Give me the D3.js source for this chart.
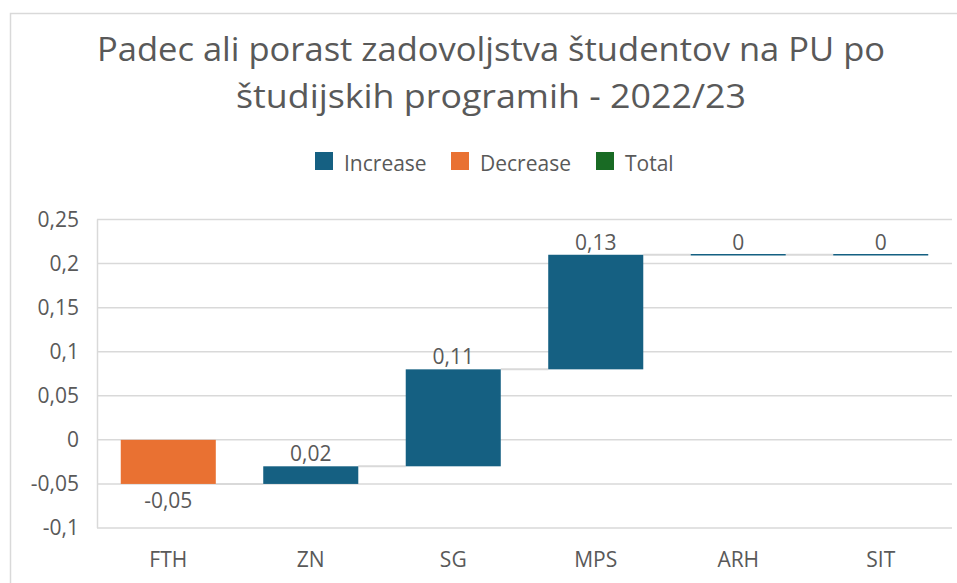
<!DOCTYPE html>
<html>
<head>
<meta charset="utf-8">
<script src="https://cdn.jsdelivr.net/npm/d3@7"></script>
<style>
html, body { margin: 0; padding: 0; background: #fff; }
svg { display: block; font-family: "Open Sans", sans-serif; }
</style>
</head>
<body>
<svg id="chart" width="957" height="583"></svg>
<script>
const titleLines = ["Padec ali porast zadovoljstva študentov na PU po", "študijskih programih - 2022/23"];
const categories = ["FTH", "ZN", "SG", "MPS", "ARH", "SIT"];
const deltas = [-0.05, 0.02, 0.11, 0.13, 0, 0];
const yTicks = [-0.1, -0.05, 0, 0.05, 0.1, 0.15, 0.2, 0.25];
const legendItems = ["Increase", "Decrease", "Total"];
const colors = { Increase: "#156082", Decrease: "#E97132", Total: "#196B24" };

const svg = d3.select("#chart");
const textColor = "#595959";
const gridColor = "#d9d9d9";

// outer chart border
svg.append("rect").attr("x", 10.5).attr("y", 13.5).attr("width", 1000).attr("height", 1000)
  .attr("fill", "#fff").attr("stroke", gridColor).attr("stroke-width", 1.5);

// title
const titleWidths = [788, 510];
titleLines.forEach((t, i) => {
  svg.append("text").attr("x", 491).attr("y", 61 + i * 46.5)
    .attr("text-anchor", "middle").attr("fill", textColor)
    .attr("font-size", 32).attr("textLength", titleWidths[i]).attr("lengthAdjust", "spacingAndGlyphs")
    .text(t);
});

// legend
const legendX = [315, 451, 596];
legendItems.forEach((name, i) => {
  const g = svg.append("g").attr("transform", `translate(${legendX[i]},152)`);
  g.append("rect").attr("width", 18).attr("height", 18).attr("fill", colors[name]);
  g.append("text").attr("x", 29).attr("y", 18.5).attr("fill", textColor)
    .attr("font-size", 21).text(name);
});

// scales
const x = d3.scaleBand().domain(categories).range([97, 952]).paddingInner(0.333).paddingOuter(0.1667);
const y = d3.scaleLinear().domain([-0.1, 0.25]).range([528, 219.5]);

// gridlines
svg.append("g").selectAll("line").data(yTicks).join("line")
  .attr("x1", 97).attr("x2", 952)
  .attr("y1", d => y(d)).attr("y2", d => y(d))
  .attr("stroke", gridColor).attr("stroke-width", 1.5);

// vertical axis line on left of plot
svg.append("line").attr("x1", 97.5).attr("x2", 97.5).attr("y1", y(0.25)).attr("y2", y(-0.1))
  .attr("stroke", gridColor).attr("stroke-width", 1.5);

const fmt = v => {
  const s = d3.format("")(+v.toFixed(2));
  return s.replace(".", ",").replace("−", "-");
};

// y axis
const yAxis = d3.axisLeft(y).tickValues(yTicks).tickSize(0).tickPadding(0).tickFormat(fmt);
const ya = svg.append("g").attr("transform", "translate(79,0)").call(yAxis);
ya.select(".domain").remove();
ya.selectAll("text").attr("fill", textColor).attr("font-size", 21).attr("font-family", "Open Sans");

// x axis labels
const xAxis = d3.axisBottom(x).tickSize(0).tickPadding(0);
const xa = svg.append("g").attr("transform", "translate(0,551)").call(xAxis);
xa.select(".domain").remove();
xa.selectAll("text").attr("fill", textColor).attr("font-size", 21).attr("font-family", "Open Sans")
  .attr("dy", "0.75em");

// waterfall data
let cum = 0;
const bars = categories.map((c, i) => {
  const start = cum;
  cum = +(cum + deltas[i]).toFixed(4);
  const type = deltas[i] < 0 ? "Decrease" : "Increase";
  return { cat: c, start, end: cum, delta: deltas[i], type };
});

// connectors
svg.append("g").selectAll("line").data(bars.slice(0, -1)).join("line")
  .attr("x1", d => x(d.cat) + x.bandwidth())
  .attr("x2", (d, i) => x(bars[i + 1].cat))
  .attr("y1", d => y(d.end)).attr("y2", d => y(d.end))
  .attr("stroke", gridColor).attr("stroke-width", 2);

// bars
svg.append("g").selectAll("rect").data(bars).join("rect")
  .attr("x", d => x(d.cat))
  .attr("width", x.bandwidth())
  .attr("y", d => d.delta === 0 ? y(d.end) - 0.75 : y(Math.max(d.start, d.end)))
  .attr("height", d => d.delta === 0 ? 1.5 : Math.abs(y(d.start) - y(d.end)))
  .attr("fill", d => colors[d.type]);

// data labels
svg.append("g").selectAll("text").data(bars).join("text")
  .attr("x", d => x(d.cat) + x.bandwidth() / 2)
  .attr("y", d => d.delta < 0 ? y(Math.min(d.start, d.end)) + 24 : y(Math.max(d.start, d.end)) - 5)
  .attr("text-anchor", "middle").attr("fill", textColor).attr("font-size", 21)
  .text(d => fmt(d.delta));
</script>
</body>
</html>
